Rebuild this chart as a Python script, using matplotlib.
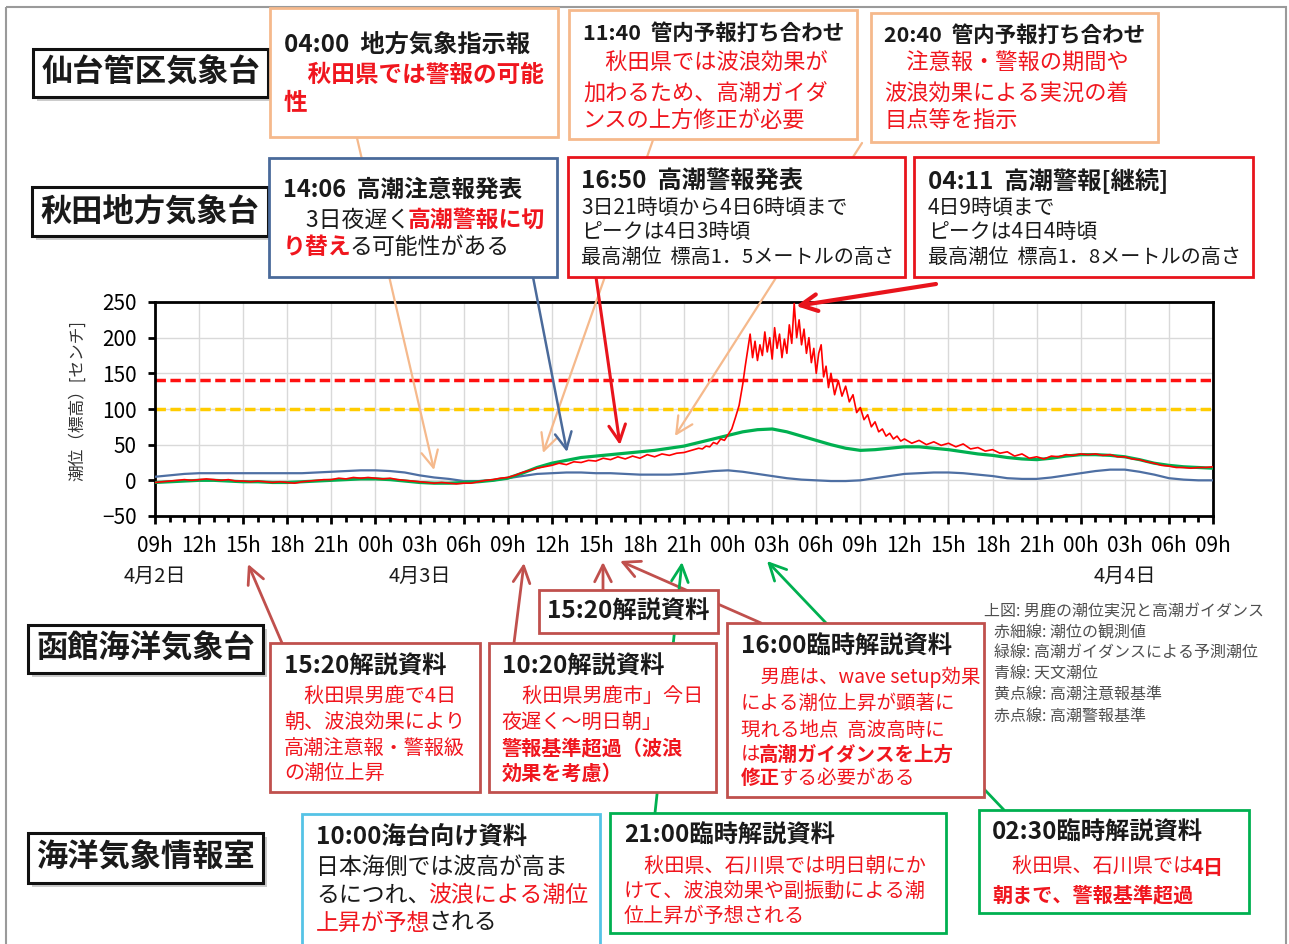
import numpy as np
import matplotlib
matplotlib.use("Agg")
import matplotlib.pyplot as plt
from matplotlib.patches import Rectangle
from matplotlib.transforms import blended_transform_factory

plt.rcParams['font.family'] = ['Noto Sans CJK JP', 'DejaVu Sans']

# ── data: hours since 4/2 09:00 ─────────────────────────────
x_tick_labels = ["09h", "12h", "15h", "18h", "21h", "00h", "03h", "06h", "09h",
                 "12h", "15h", "18h", "21h", "00h", "03h", "06h", "09h",
                 "12h", "15h", "18h", "21h", "00h", "03h", "06h", "09h"]
date_labels = ["4月2日", "4月3日", "4月4日"]
date_label_hours = [0, 18, 66]

hours = np.arange(0, 73)  # hourly samples
astro_tide = [5, 7, 9, 10, 10, 10, 10, 10, 10, 10,
              10, 11, 12, 13, 14, 14, 13, 11, 7, 4,
              2, -1, -1, 0, 3, 6, 9, 10, 11, 11,
              10, 10, 9, 8, 8, 8, 9, 11, 13, 14,
              12, 9, 6, 3, 1, 0, -1, -1, 0, 3,
              6, 9, 10, 11, 11, 10, 8, 6, 3, 2,
              2, 4, 7, 10, 13, 15, 15, 12, 8, 3,
              1, 0, 0]
guidance = [-3, -2, -1, 0, 0, -1, -2, -2, -3, -3,
            -2, -1, 0, 1, 2, 2, 1, -1, -3, -4,
            -4, -3, -2, 0, 3, 10, 18, 24, 28, 32,
            34, 36, 38, 40, 42, 45, 48, 53, 58, 63,
            68, 71, 72, 68, 62, 56, 50, 45, 42, 43,
            45, 47, 47, 45, 43, 40, 37, 35, 32, 30,
            29, 31, 34, 36, 36, 35, 33, 29, 24, 21,
            19, 18, 17]

# observed tide sample times: 30 min, 15 min, 10 min at the peak, 15 min, 30 min
obs_hours = np.concatenate([np.arange(0, 75) * 0.5,
                            37 + np.arange(1, 13) * 0.25,
                            40 + np.arange(1, 37) / 6,
                            46 + np.arange(1, 21) * 0.25,
                            51 + np.arange(1, 43) * 0.5])
observed = [-3, -2, -1, 0, 1, 0, 1, 2, 1, 0,
            1, -1, -1, -2, -1, -2, -3, -2, -3, -4,
            -2, -1, 0, 1, 1, 3, 2, 4, 3, 4,
            3, 2, 3, 1, 0, -1, -2, -3, -4, -3,
            -4, -5, -4, -4, -2, 0, 1, 3, 4, 7,
            11, 14, 17, 19, 21, 24, 22, 26, 25, 28,
            27, 31, 29, 33, 30, 34, 31, 36, 33, 37,
            35, 38, 39, 42, 45,
            44, 48, 47, 53, 51, 58, 56, 64, 72, 88, 105, 135,
            160, 182, 205, 172, 195, 168,
            190, 175, 208, 180, 200, 170,
            214, 185, 205, 172, 198, 178,
            218, 192, 248, 200, 225, 190,
            212, 178, 200, 165, 185, 150,
            178, 190, 145, 160, 130, 150,
            120, 140, 118, 132, 110, 120, 95, 102, 85, 92,
            75, 82, 68, 72, 62, 66, 58, 62, 55, 58,
            52, 56, 50, 54, 49, 52, 47, 51, 44, 46,
            41, 43, 38, 40, 34, 37, 31, 33, 30, 34,
            33, 36, 35, 37, 36, 37, 35, 36, 33, 33,
            30, 29, 26, 24, 21, 20, 18, 18, 17, 18,
            18, 19]
warning_level = 140
advisory_level = 100

# ── colours ─────────────────────────────────────────────────
BLK = "#1a1a1a"
RED = "#F0161E"
ORG = "#F5B98C"
NAVY = "#4A6A9A"
BRED = "#E8141C"
DRED = "#C0504D"
CYAN = "#55C3E6"
GRN = "#00B050"

W, H = 1289, 944
fig = plt.figure(figsize=(W / 100, H / 100), dpi=100)

# ── chart ───────────────────────────────────────────────────
ax = fig.add_axes([155 / W, 1 - 516 / H, (1213 - 155) / W, (516 - 302) / H])
ax.axhline(warning_level, color="#FF1010", lw=2.5, ls=(0, (3, 1.3)), zorder=2)
ax.axhline(advisory_level, color="#FFCC00", lw=2.5, ls=(0, (3, 1.3)), zorder=2)
ax.plot(hours, astro_tide, color="#4E6FA3", lw=1.6, zorder=3)
ax.plot(hours, guidance, color=GRN, lw=2.3, zorder=3)
ax.plot(obs_hours, observed, color="#FF0000", lw=1.2, zorder=4)
ax.set_xlim(0, 72)
ax.set_ylim(-50, 250)
ax.set_yticks(range(-50, 251, 50))
ax.set_xticks(range(0, 73, 3))
ax.set_xticklabels(x_tick_labels)
ax.set_xticks(range(0, 73), minor=True)
ax.grid(which="major", color="#D9D9D9", lw=1)
for s in ax.spines.values():
    s.set_linewidth(2)
    s.set_color("black")
ax.tick_params(axis="x", which="major", length=6, width=2, pad=8, labelsize=15)
ax.tick_params(axis="x", which="minor", length=4.5, width=2)
ax.tick_params(axis="y", length=5, width=2, pad=8, labelsize=15)

# ── overlay in pixel coordinates ────────────────────────────
ov = fig.add_axes([0, 0, 1, 1], zorder=5)
ov.set_xlim(0, W)
ov.set_ylim(H, 0)
ov.axis("off")

ov.add_patch(Rectangle((6, 7), 1280, 950, fc="none", ec="#9A9A9A", lw=1.5, zorder=1))
ov.text(78, 401, "潮位（標高）[センチ]", rotation=90, ha="center", va="center",
        fontsize=12, color="#333333")

tr = blended_transform_factory(ax.transData, ov.transData)
for lab, h in zip(date_labels, date_label_hours):
    ov.text(h, 576, lab, transform=tr, ha="center", va="center", fontsize=14.5, color=BLK)


def box(x0, y0, x1, y1, ec, lw=2):
    ov.add_patch(Rectangle((x0, y0), x1 - x0, y1 - y0, fc="white", ec=ec, lw=lw, zorder=3))


def rich(x, y, parts, size):
    t = None
    for s, c, w in parts:
        if t is None:
            t = ov.text(x, y, s, color=c, fontsize=size, fontweight=w,
                        ha="left", va="center", zorder=4)
        else:
            t = ov.annotate(s, xy=(1, 0.5), xycoords=t, xytext=(-1.5, 0),
                            textcoords="offset points", color=c, fontsize=size,
                            fontweight=w, ha="left", va="center", zorder=4)


def label_box(x0, y0, x1, y1, s):
    ov.add_patch(Rectangle((x0 + 4, y0 + 4), x1 - x0, y1 - y0, fc="#AAAAAA",
                           ec="none", alpha=0.6, zorder=2))
    ov.add_patch(Rectangle((x0, y0), x1 - x0, y1 - y0, fc="white", ec="#111111",
                           lw=2.2, zorder=3))
    ov.text((x0 + x1) / 2, (y0 + y1) / 2, s, fontsize=22.5, fontweight="bold",
            ha="center", va="center", zorder=4, color=BLK)


def arrow(start, tip, color, lw=2):
    ov.annotate("", xy=tip, xytext=start, zorder=2,
                arrowprops=dict(arrowstyle="->,head_length=0.6,head_width=0.3",
                                mutation_scale=20, color=color, lw=lw,
                                shrinkA=0, shrinkB=0))


# left organisation labels
label_box(33, 49, 268, 97, "仙台管区気象台")
label_box(32, 187, 268, 236, "秋田地方気象台")
label_box(28, 625, 263, 673, "函館海洋気象台")
label_box(28, 833, 263, 883, "海洋気象情報室")

# connectors (drawn behind the boxes)
arrow((357, 138), (434, 470), ORG, 1.6)
arrow((653, 140), (543, 453), ORG, 1.6)
arrow((862, 143), (675, 436), ORG, 1.6)
arrow((533, 277), (567, 452), NAVY, 1.8)
arrow((596, 277), (620, 445), BRED, 2.2)
arrow((936, 284), (796, 306), BRED, 3)
arrow((282, 643), (248, 564), DRED, 2)
arrow((514, 643), (524, 563), DRED, 2)
arrow((603, 590), (603, 562), DRED, 2)
arrow((761, 623), (620, 561), DRED, 2)
arrow((655, 813), (682, 562), GRN, 2)
arrow((1004, 810), (767, 561), GRN, 2)

B, N = "bold", "normal"

# top row: 仙台管区気象台
box(270, 8, 558, 137, ORG)
rich(284, 45, [("04:00  地方気象指示報", BLK, B)], 17.5)
rich(284, 75, [("　秋田県では警報の可能", RED, B)], 17)
rich(284, 103, [("性", RED, B)], 17)

box(569, 10, 857, 139, ORG)
rich(583, 33, [("11:40  管内予報打ち合わせ", BLK, B)], 15.5)
rich(583, 63, [("　秋田県では波浪効果が", RED, N)], 16)
rich(583, 93, [("加わるため、高潮ガイダ", RED, N)], 16)
rich(583, 121, [("ンスの上方修正が必要", RED, N)], 16)

box(871, 13, 1158, 142, ORG)
rich(884, 35, [("20:40  管内予報打ち合わせ", BLK, B)], 15.5)
rich(884, 63, [("　注意報・警報の期間や", RED, N)], 16)
rich(884, 93, [("波浪効果による実況の着", RED, N)], 16)
rich(884, 121, [("目点等を指示", RED, N)], 16)

# second row: 秋田地方気象台
box(269, 158, 557, 277, NAVY)
rich(283, 190, [("14:06  高潮注意報発表", BLK, B)], 17)
rich(283, 220, [("　3日夜遅く", BLK, N), ("高潮警報に切", RED, B)], 16.5)
rich(283, 247, [("り替え", RED, B), ("る可能性がある", BLK, N)], 16.5)

box(568, 157, 905, 277, BRED)
rich(581, 181, [("16:50  高潮警報発表", BLK, B)], 17.5)
rich(581, 208, [("3日21時頃から4日6時頃まで", BLK, N)], 15)
rich(581, 232, [("ピークは4日3時頃", BLK, N)], 15)
rich(581, 257, [("最高潮位  標高1．5メートルの高さ", BLK, N)], 14.5)

box(914, 157, 1253, 277, BRED)
rich(928, 181, [("04:11  高潮警報[継続]", BLK, B)], 17.5)
rich(928, 208, [("4日9時頃まで", BLK, N)], 15)
rich(928, 232, [("ピークは4日4時頃", BLK, N)], 15)
rich(928, 257, [("最高潮位  標高1．8メートルの高さ", BLK, N)], 14.5)

# 函館海洋気象台
box(539, 590, 718, 633, DRED)
rich(547, 612, [("15:20解説資料", BLK, B)], 17.5)

box(270, 643, 480, 792, DRED)
rich(284, 667, [("15:20解説資料", BLK, B)], 17.5)
rich(284, 696, [("　秋田県男鹿で4日", RED, N)], 14.5)
rich(284, 722, [("朝、波浪効果により", RED, N)], 14.5)
rich(284, 748, [("高潮注意報・警報級", RED, N)], 14.5)
rich(284, 773, [("の潮位上昇", RED, N)], 14.5)

box(489, 643, 716, 792, DRED)
rich(502, 667, [("10:20解説資料", BLK, B)], 17.5)
rich(502, 696, [("　秋田県男鹿市」今日", RED, N)], 14.5)
rich(502, 722, [("夜遅く～明日朝」", RED, N)], 14.5)
rich(502, 748, [("警報基準超過（波浪", RED, B)], 14.5)
rich(502, 773, [("効果を考慮）", RED, B)], 14.5)

box(727, 623, 984, 797, DRED)
rich(741, 647, [("16:00臨時解説資料", BLK, B)], 17.5)
rich(741, 677, [("　男鹿は、wave setup効果", RED, N)], 14)
rich(741, 703, [("による潮位上昇が顕著に", RED, N)], 14)
rich(741, 730, [("現れる地点  高波高時に", RED, N)], 14)
rich(741, 755, [("は", RED, N), ("高潮ガイダンスを上方", RED, B)], 14)
rich(741, 778, [("修正", RED, B), ("する必要がある", RED, N)], 14)

# caption for the chart
caption = ["上図: 男鹿の潮位実況と高潮ガイダンス", "赤細線: 潮位の観測値",
           "緑線: 高潮ガイダンスによる予測潮位", "青線: 天文潮位",
           "黄点線: 高潮注意報基準", "赤点線: 高潮警報基準"]
for i, (s, y) in enumerate(zip(caption, [612, 633, 653, 673, 695, 716])):
    ov.text(984 if i == 0 else 994, y, s, fontsize=11.5, color="#505050",
            ha="left", va="center", zorder=4)

# 海洋気象情報室
box(302, 814, 600, 950, CYAN)
rich(316, 838, [("10:00海台向け資料", BLK, B)], 17.5)
rich(316, 867, [("日本海側では波高が高ま", BLK, N)], 16.5)
rich(316, 895, [("るにつれ、", BLK, N), ("波浪による潮位", RED, N)], 16.5)
rich(316, 923, [("上昇が予想", RED, N), ("される", BLK, N)], 16.5)

box(610, 813, 946, 933, GRN)
rich(624, 836, [("21:00臨時解説資料", BLK, B)], 17.5)
rich(624, 866, [("　秋田県、石川県では明日朝にか", RED, N)], 14.5)
rich(624, 892, [("けて、波浪効果や副振動による潮", RED, N)], 14.5)
rich(624, 916, [("位上昇が予想される", RED, N)], 14.5)

box(979, 810, 1249, 913, GRN)
rich(992, 833, [("02:30臨時解説資料", BLK, B)], 17.5)
rich(992, 867, [("　秋田県、石川県では", RED, N), ("4日", RED, B)], 14.5)
rich(992, 895, [("朝まで、警報基準超過", RED, B)], 14.5)

fig.savefig("out.png", dpi=100, facecolor="white")
